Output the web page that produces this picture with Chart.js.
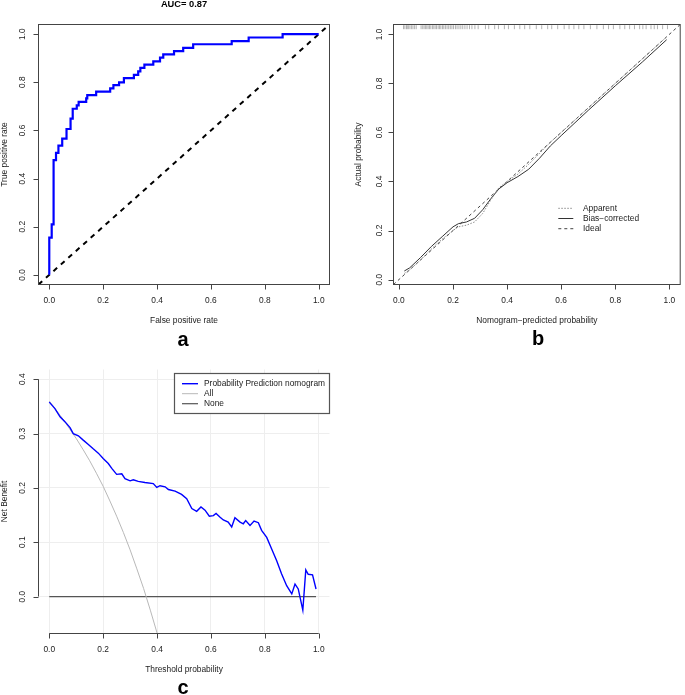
<!DOCTYPE html>
<html>
<head>
<meta charset="utf-8">
<script src="https://cdn.jsdelivr.net/npm/chart.js@4.4.1/dist/chart.umd.min.js"></script>
<style>
  body { margin: 0; background: #fff; width: 685px; height: 695px; position: relative; overflow: hidden; font-family: "Liberation Sans", Arial, sans-serif; }
  canvas { position: absolute; }
  .lbl { position: absolute; font-weight: bold; color: #000; line-height: 1; transform: translate(-50%, -50%); white-space: nowrap; }
</style>
</head>
<body>
<canvas id="rocChart" width="342" height="350" style="left:0;top:0"></canvas>
<canvas id="calChart" width="343" height="350" style="left:342px;top:0"></canvas>
<canvas id="dcaChart" width="342" height="345" style="left:0;top:350px"></canvas>
<div class="lbl" style="left:184px;top:5px;font-size:9.3px">AUC= 0.87</div>
<div class="lbl" style="left:183px;top:339px;font-size:20px">a</div>
<div class="lbl" style="left:538px;top:338px;font-size:20px">b</div>
<div class="lbl" style="left:183px;top:687px;font-size:20px">c</div>
<script>
// a: ROC curve
const rocFpr = [0, 0, 0.009, 0.016, 0.025, 0.034, 0.048, 0.064, 0.079, 0.087, 0.102, 0.109, 0.137, 0.141, 0.174, 0.226, 0.238, 0.259, 0.277, 0.314, 0.330, 0.338, 0.353, 0.386, 0.411, 0.423, 0.463, 0.497, 0.534, 0.677, 0.740, 0.866, 1.0];
const rocTpr = [0, 0.155, 0.21, 0.477, 0.507, 0.537, 0.566, 0.606, 0.649, 0.69, 0.704, 0.719, 0.733, 0.747, 0.761, 0.775, 0.788, 0.80, 0.817, 0.831, 0.845, 0.86, 0.873, 0.887, 0.902, 0.916, 0.929, 0.943, 0.958, 0.971, 0.986, 1.0, 1.0];
const refLine = [-0.04, 1.04];

// b: calibration
const calX = [0.02, 0.04, 0.08, 0.12, 0.16, 0.20, 0.22, 0.25, 0.28, 0.31, 0.34, 0.37, 0.40, 0.44, 0.48, 0.52, 0.56, 0.60, 0.70, 0.80, 0.90, 0.99];
const apparent = [0.025, 0.04, 0.08, 0.125, 0.165, 0.2, 0.215, 0.222, 0.235, 0.27, 0.325, 0.375, 0.4, 0.43, 0.47, 0.515, 0.56, 0.6, 0.7, 0.8, 0.9, 0.99];
const biasCorrected = [0.035, 0.048, 0.09, 0.135, 0.175, 0.215, 0.228, 0.235, 0.25, 0.285, 0.33, 0.37, 0.395, 0.42, 0.45, 0.495, 0.545, 0.587, 0.69, 0.79, 0.887, 0.978];
const idealLine = [-0.02, 1.04];
const rugPred = [0.017, 0.022, 0.028, 0.031, 0.036, 0.041, 0.047, 0.052, 0.058, 0.064, 0.082, 0.088, 0.093, 0.098, 0.103, 0.108, 0.113, 0.118, 0.124, 0.129, 0.134, 0.139, 0.145, 0.150, 0.155, 0.161, 0.166, 0.172, 0.178, 0.184, 0.190, 0.196, 0.202, 0.209, 0.215, 0.222, 0.229, 0.236, 0.244, 0.252, 0.261, 0.270, 0.281, 0.293,
  0.32, 0.332, 0.354, 0.368, 0.39, 0.405, 0.427, 0.447, 0.465, 0.484, 0.508, 0.528, 0.55, 0.565, 0.587, 0.611, 0.629, 0.647, 0.665, 0.684, 0.708, 0.732, 0.756, 0.775, 0.793, 0.817, 0.835, 0.853, 0.871, 0.89, 0.902, 0.914, 0.932, 0.944, 0.956, 0.975, 0.993];

// c: decision curve
const dcaT = [0, 0.021, 0.04, 0.058, 0.077, 0.089, 0.108, 0.126, 0.145, 0.163, 0.182, 0.2, 0.219, 0.232, 0.25, 0.269, 0.281, 0.3, 0.312, 0.33, 0.355, 0.386, 0.399, 0.411, 0.43, 0.442, 0.467, 0.491, 0.51, 0.529, 0.547, 0.563, 0.578, 0.594, 0.609, 0.619, 0.634, 0.646, 0.664, 0.677, 0.689, 0.708, 0.72, 0.729, 0.745, 0.76, 0.776, 0.788, 0.807, 0.825, 0.844, 0.862, 0.881, 0.9, 0.912, 0.924, 0.941, 0.952, 0.961, 0.977, 0.99];
const dcaModel = [0.358, 0.346, 0.331, 0.322, 0.311, 0.30, 0.296, 0.288, 0.28, 0.272, 0.264, 0.254, 0.245, 0.236, 0.225, 0.226, 0.217, 0.213, 0.215, 0.212, 0.21, 0.208, 0.201, 0.204, 0.202, 0.197, 0.194, 0.188, 0.18, 0.162, 0.157, 0.165, 0.159, 0.148, 0.149, 0.153, 0.146, 0.141, 0.137, 0.128, 0.145, 0.137, 0.134, 0.14, 0.131, 0.139, 0.136, 0.122, 0.109, 0.088, 0.066, 0.042, 0.02, 0.005, 0.023, 0.014, -0.025, 0.049, 0.041, 0.04, 0.014];
const allT = [0, 0.025, 0.05, 0.075, 0.1, 0.125, 0.15, 0.175, 0.2, 0.225, 0.25, 0.275, 0.3, 0.325, 0.35, 0.375, 0.4];
const allNB = [0.36, 0.344, 0.327, 0.309, 0.291, 0.271, 0.25, 0.227, 0.203, 0.176, 0.148, 0.118, 0.086, 0.051, 0.015, -0.025, -0.067];
const noneT = [0, 0.99];
const noneNB = [0, 0];

const unitTicks = [0, 0.2, 0.4, 0.6, 0.8, 1.0];
const nbTicks = [0, 0.1, 0.2, 0.3, 0.4];

const FONT = '"Liberation Sans", Arial, sans-serif';
const pts = (xs, ys) => xs.map((x, i) => ({ x, y: ys[i] }));

// R-style axes, box, titles and legend drawn on top of the chart area
const rAxes = {
  id: 'rAxes',
  afterDraw(chart, args, o) {
    const ctx = chart.ctx, a = chart.chartArea;
    const xs = chart.scales.x, ys = chart.scales.y;
    ctx.save();
    ctx.strokeStyle = '#444';
    ctx.lineWidth = 1;
    ctx.setLineDash([]);
    if (o.box) ctx.strokeRect(a.left, a.top, a.right - a.left, a.bottom - a.top);

    ctx.beginPath();
    const xf = xs.getPixelForValue(o.xTicks[0]), xl = xs.getPixelForValue(o.xTicks[o.xTicks.length - 1]);
    ctx.moveTo(xf, a.bottom); ctx.lineTo(xl, a.bottom);
    o.xTicks.forEach(v => {
      const px = Math.round(xs.getPixelForValue(v)) + 0.5;
      ctx.moveTo(px, a.bottom); ctx.lineTo(px, a.bottom + 5);
    });
    const yf = ys.getPixelForValue(o.yTicks[0]), yl = ys.getPixelForValue(o.yTicks[o.yTicks.length - 1]);
    ctx.moveTo(a.left, yf); ctx.lineTo(a.left, yl);
    o.yTicks.forEach(v => {
      const py = Math.round(ys.getPixelForValue(v)) + 0.5;
      ctx.moveTo(a.left, py); ctx.lineTo(a.left - 5, py);
    });
    ctx.stroke();

    ctx.fillStyle = '#222';
    ctx.font = '8.4px ' + FONT;
    ctx.textAlign = 'center';
    ctx.textBaseline = 'middle';
    o.xTicks.forEach(v => ctx.fillText(v.toFixed(1), xs.getPixelForValue(v), a.bottom + 16));
    ctx.fillText(o.xTitle, (a.left + a.right) / 2, a.bottom + 36);
    o.yTicks.forEach(v => {
      ctx.save();
      ctx.translate(a.left - o.yLab, ys.getPixelForValue(v));
      ctx.rotate(-Math.PI / 2);
      ctx.fillText(v.toFixed(1), 0, 0);
      ctx.restore();
    });
    ctx.save();
    ctx.translate(a.left - o.yTitleOff, (a.top + a.bottom) / 2);
    ctx.rotate(-Math.PI / 2);
    ctx.fillText(o.yTitle, 0, 0);
    ctx.restore();

    const lg = o.legend;
    if (lg) {
      if (lg.box) {
        ctx.fillStyle = '#fff';
        ctx.fillRect(lg.box[0], lg.box[1], lg.box[2], lg.box[3]);
        ctx.strokeStyle = '#555';
        ctx.lineWidth = 1.2;
        ctx.strokeRect(lg.box[0], lg.box[1], lg.box[2], lg.box[3]);
      }
      ctx.textAlign = 'left';
      lg.items.forEach((di, i) => {
        const ds = chart.data.datasets[di];
        const y = lg.y + i * lg.dy;
        ctx.strokeStyle = ds.borderColor;
        ctx.lineWidth = ds.borderWidth;
        ctx.setLineDash(ds.borderDash || []);
        ctx.beginPath();
        ctx.moveTo(lg.x0, y); ctx.lineTo(lg.x1, y);
        ctx.stroke();
        ctx.fillStyle = '#222';
        ctx.fillText(ds.label, lg.tx, y);
      });
    }
    ctx.restore();
  }
};

function linScale(min, max, ticks, grid) {
  return {
    type: 'linear', min, max,
    afterBuildTicks: s => { s.ticks = ticks.map(v => ({ value: v })); },
    afterFit: s => { if (s.isHorizontal()) s.height = 0; else s.width = 0; },
    ticks: { display: false },
    border: { display: false },
    grid: grid ? { display: true, color: '#eeeeee', lineWidth: 1, drawTicks: false } : { display: false }
  };
}

function baseOptions(padding, xr, yr, axes, grid) {
  return {
    responsive: false,
    animation: false,
    devicePixelRatio: 1,
    layout: { padding },
    scales: { x: linScale(xr[0], xr[1], axes.xTicks, grid), y: linScale(yr[0], yr[1], axes.yTicks, grid) },
    plugins: { legend: { display: false }, tooltip: { enabled: false }, rAxes: axes },
    elements: { point: { radius: 0 }, line: { tension: 0 } }
  };
}

new Chart(document.getElementById('rocChart'), {
  type: 'line',
  data: {
    datasets: [
      { label: 'ROC', data: pts(rocFpr, rocTpr), stepped: 'before', borderColor: '#0000ff', borderWidth: 2.2, fill: false },
      { label: 'Reference', data: pts(refLine, refLine), borderColor: '#000', borderWidth: 2, borderDash: [5, 5], fill: false }
    ]
  },
  options: baseOptions({ left: 38.5, top: 24.5, right: 12.5, bottom: 65.5 }, [-0.04, 1.04], [-0.04, 1.04], {
    box: true, xTicks: unitTicks, yTicks: unitTicks, yLab: 15.5, yTitleOff: 33.5,
    xTitle: 'False positive rate', yTitle: 'True positive rate'
  }, false),
  plugins: [rAxes]
});

new Chart(document.getElementById('calChart'), {
  type: 'line',
  data: {
    datasets: [
      { label: 'Apparent', data: pts(calX, apparent), borderColor: '#8a8a8a', borderWidth: 1, borderDash: [1.5, 1.5], fill: false },
      { label: 'Bias\u2212corrected', data: pts(calX, biasCorrected), borderColor: '#333', borderWidth: 1, fill: false },
      { label: 'Ideal', data: pts(idealLine, idealLine), borderColor: '#444', borderWidth: 1, borderDash: [3, 3], fill: false },
      { label: 'rug', data: rugPred.map(v => ({ x: v, y: 1.029 })), showLine: false, pointStyle: 'line', rotation: 90, pointRadius: 2, borderColor: '#a0a0a0', borderWidth: 0.8 }
    ]
  },
  options: baseOptions({ left: 51.5, top: 24.5, right: 0.5, bottom: 65.5 }, [-0.02, 1.04], [-0.02, 1.04], {
    box: true, xTicks: unitTicks, yTicks: unitTicks, yLab: 13.7, yTitleOff: 35,
    xTitle: 'Nomogram\u2212predicted probability', yTitle: 'Actual probability',
    legend: { items: [0, 1, 2], x0: 216.3, x1: 231.3, tx: 241, y: 208.3, dy: 10.2 }
  }, false),
  plugins: [rAxes]
});

new Chart(document.getElementById('dcaChart'), {
  type: 'line',
  data: {
    datasets: [
      { label: 'Probability Prediction nomogram', data: pts(dcaT, dcaModel), borderColor: '#0000ff', borderWidth: 1.4, fill: false },
      { label: 'All', data: pts(allT, allNB), borderColor: '#b8b8b8', borderWidth: 1, fill: false },
      { label: 'None', data: pts(noneT, noneNB), borderColor: '#555', borderWidth: 1.2, fill: false }
    ]
  },
  options: baseOptions({ left: 38.5, top: 19.5, right: 12.5, bottom: 61.5 }, [-0.04, 1.04], [-0.068, 0.418], {
    box: false, xTicks: unitTicks, yTicks: nbTicks, yLab: 15.5, yTitleOff: 33.5,
    xTitle: 'Threshold probability', yTitle: 'Net Benefit',
    legend: { box: [174.5, 23.5, 155, 40], items: [0, 1, 2], x0: 182, x1: 198, tx: 204, y: 33.7, dy: 10 }
  }, true),
  plugins: [rAxes]
});
</script>
</body>
</html>
